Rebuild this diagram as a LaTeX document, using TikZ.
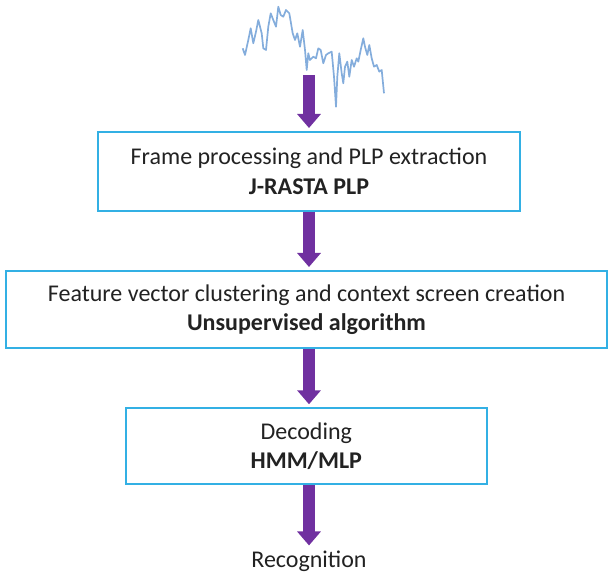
\documentclass[tikz,border=0pt]{standalone}
\usepackage{fontspec}
\setmainfont{Carlito}
\usetikzlibrary{arrows.meta}
\definecolor{boxblue}{HTML}{33B0E4}
\definecolor{arrpurple}{HTML}{7030A0}
\definecolor{wave}{HTML}{84ADDC}
\definecolor{txt}{HTML}{222222}
\tikzset{
  stepbox/.style={draw=boxblue, line width=2pt, fill=white, align=center, inner sep=0pt,
    font=\fontsize{24}{29.5}\selectfont, text=txt},
  flowarrow/.style={draw=arrpurple, line width=12pt, -{Triangle[width=23pt,length=14pt]}, shorten >=3pt},
}
\begin{document}
\begin{tikzpicture}[x=1pt,y=-1pt]
\useasboundingbox (0,0) rectangle (608,577);
\draw[wave, line width=1.7pt, line join=round]
 (242.7,48.3) -- (245,55) -- (248.3,40) -- (250.7,28.3) -- (253.3,43.3) -- (256,31.7) -- (258.3,20) -- (261.7,33.3) -- (263.3,48.3) -- (266,50) -- (268.3,26.7) -- (270.7,13.3) -- (273.3,20) -- (276,26.7) -- (278.3,6.7) -- (280.7,15) -- (283.3,16.7) -- (286,10) -- (289.3,13.3) -- (292.7,33.3) -- (295,40) -- (297.3,33.3) -- (300,46.7) -- (302.7,30) -- (305,50) -- (306.7,70) -- (308.3,53.3) -- (310,60) -- (313.3,56.7) -- (316,58.3) -- (318.3,48.3) -- (320.7,50) -- (323.3,63.3) -- (326,55) -- (328.3,53.3) -- (331.7,51.7) -- (334,76.7) -- (336,106.7) -- (337.3,76.7) -- (339.3,53.3) -- (341.7,73.3) -- (343.3,83.3) -- (345,66.7) -- (347.3,61.7) -- (349.3,76.7) -- (351.7,60) -- (354,66.7) -- (356.7,58.3) -- (358.3,61.7) -- (360.7,50) -- (363.3,38.3) -- (365,46.7) -- (367.3,55) -- (369.3,45) -- (371.7,58.3) -- (374,66.7) -- (376.7,65) -- (379.3,71.7) -- (381.7,70) -- (384,93.3);
\coordinate (src) at (309,75);
\node[stepbox, minimum width=422pt, minimum height=79pt] (b1) at (309,171.5)
  {Frame processing and PLP extraction\\\textbf{J-RASTA PLP}};
\node[stepbox, minimum width=601pt, minimum height=77pt] (b2) at (306.5,309.5)
  {Feature vector clustering and context screen creation\\\textbf{Unsupervised algorithm}};
\node[stepbox, minimum width=361pt, minimum height=76pt] (b3) at (306.3,446.3)
  {Decoding\\\textbf{HMM/MLP}};
\node[font=\fontsize{24}{29}\selectfont, text=txt, inner sep=2pt] (rec) at (309,561) {Recognition};
\draw[flowarrow] (src) -- (src |- b1.north);
\draw[flowarrow] (b1.south -| src) -- (src |- b2.north);
\draw[flowarrow] (b2.south -| src) -- (src |- b3.north);
\draw[flowarrow] (b3.south -| src) -- (rec.north -| src);
\end{tikzpicture}
\end{document}
